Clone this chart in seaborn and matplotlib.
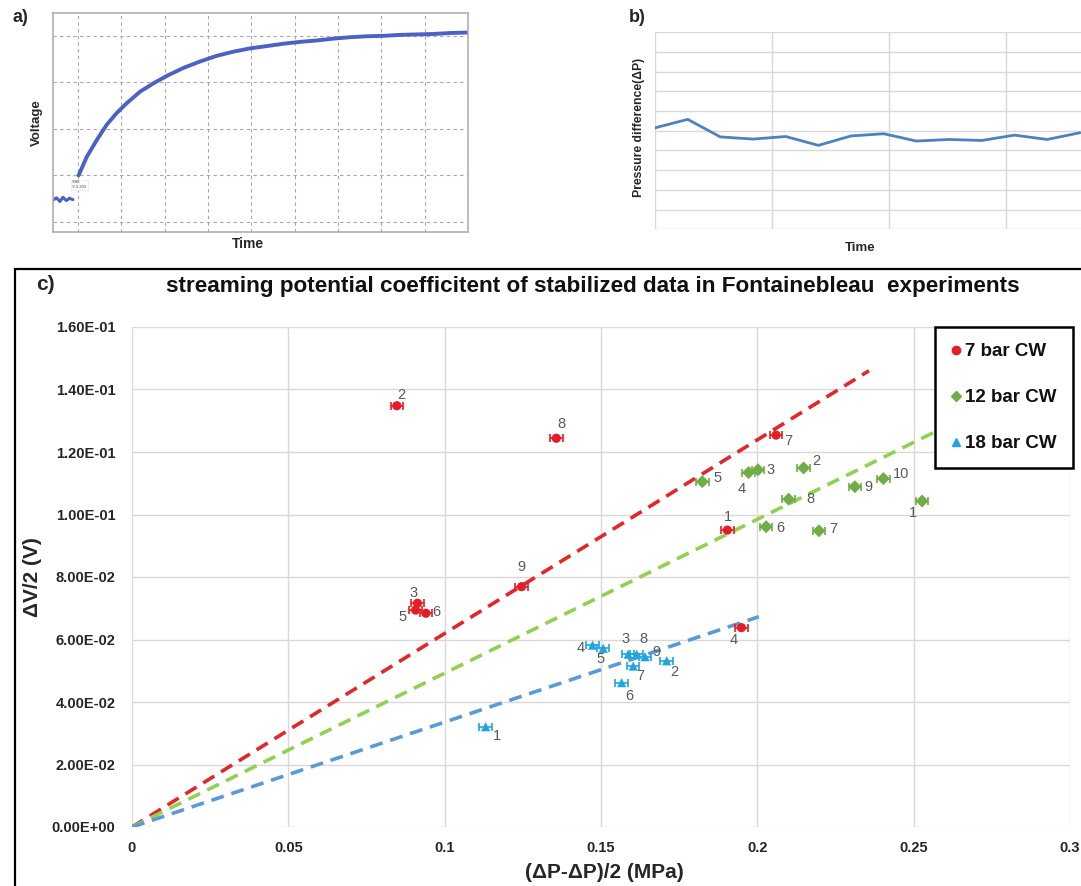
import matplotlib
matplotlib.use("Agg")
import matplotlib.pyplot as plt
import seaborn as sns
import pandas as pd
from matplotlib.lines import Line2D
from matplotlib.patches import Rectangle

# ---- panel a: scope trace (grid units)
voltBaseT = [-0.58, -0.5, -0.42, -0.35, -0.27, -0.2, -0.12]
voltBaseV = [0.47, 0.52, 0.44, 0.53, 0.46, 0.51, 0.48]
voltRiseT = [0.01, 0.20, 0.43, 0.66, 0.89, 1.12, 1.43, 1.74, 2.05, 2.43, 2.82, 3.20, 3.59,
             3.97, 4.36, 4.74, 5.13, 5.51, 5.90, 6.28, 6.67, 7.05, 7.44, 7.82, 8.21, 8.59, 8.98]
voltRiseV = [1.00, 1.40, 1.76, 2.09, 2.34, 2.55, 2.80, 2.98, 3.14, 3.31, 3.45, 3.57, 3.66,
             3.73, 3.78, 3.83, 3.87, 3.90, 3.94, 3.97, 3.99, 4.00, 4.02, 4.03, 4.04, 4.06, 4.07]

# ---- panel b: pressure difference
pressT = list(range(14))
pressDP = [5.15, 5.58, 4.69, 4.58, 4.71, 4.26, 4.74, 4.85, 4.48, 4.56, 4.51, 4.78, 4.56, 4.90]

# ---- panel c: streaming potential data
seriesNames = ["7 bar CW", "12 bar CW", "18 bar CW"]
red_lab = [1, 2, 3, 4, 5, 6, 7, 8, 9]
red_dp = [0.1904, 0.0847, 0.0913, 0.1949, 0.0907, 0.0940, 0.2060, 0.1357, 0.1246]
red_dv = [0.0950, 0.1348, 0.0716, 0.0638, 0.0694, 0.0684, 0.1254, 0.1244, 0.0769]
green_lab = [1, 2, 3, 4, 5, 6, 7, 8, 9, 10]
green_dp = [0.2527, 0.2148, 0.2002, 0.1972, 0.1824, 0.2028, 0.2197, 0.2100, 0.2312, 0.2403]
green_dv = [0.1043, 0.1149, 0.1143, 0.1134, 0.1105, 0.0961, 0.0948, 0.1049, 0.1089, 0.1115]
blue_lab = [1, 2, 3, 4, 5, 6, 7, 8, 9]
blue_dp = [0.1131, 0.1710, 0.1587, 0.1473, 0.1507, 0.1566, 0.1603, 0.1614, 0.1641]
blue_dv = [0.0321, 0.0532, 0.0553, 0.0582, 0.0572, 0.0462, 0.0515, 0.0553, 0.0545]
dpErr = 0.002

# trend lines through origin (end points)
red_fit_x = [0.0, 0.2357]
red_fit_y = [0.0, 0.1460]
green_fit_x = [0.0, 0.2600]
green_fit_y = [0.0, 0.1280]
blue_fit_x = [0.0, 0.2005]
blue_fit_y = [0.0, 0.0673]

xTicks = [0, 0.05, 0.1, 0.15, 0.2, 0.25, 0.3]
xTickLabels = ["0", "0.05", "0.1", "0.15", "0.2", "0.25", "0.3"]
yTicks = [0, 0.02, 0.04, 0.06, 0.08, 0.10, 0.12, 0.14, 0.16]

# label offsets in pixels (dx right, dy down)
red_off = [(1, -13), (4, -11), (-4, -10), (-8, 12), (-13, 7), (10, -1), (12, 6), (5, -14), (0, -20)]
green_off = [(-9, 12), (13, -7), (13, 0), (-7, 16), (15, -4), (14, 1), (14, -2), (22, 0), (14, 0), (18, -5)]
blue_off = [(11, 9), (8, 11), (-3, -15), (-12, 3), (-3, 11), (8, 13), (7, 10), (7, -15), (11, -5)]

W, H = 1081, 886


def box(left, top, right, bottom):
    return [left / W, 1 - bottom / H, (right - left) / W, (bottom - top) / H]


def fx(px):
    return px / W


def fy(py):
    return 1 - py / H


sns.set_theme(style="white")
plt.rcParams["font.family"] = ["Liberation Sans", "DejaVu Sans"]

fig = plt.figure(figsize=(W / 100, H / 100), dpi=100)

# ================= a)
axA = fig.add_axes(box(53, 13, 468, 232))
traceCol = "#4b62c4"
sns.lineplot(x=voltBaseT, y=voltBaseV, ax=axA, color=traceCol, lw=2.2)
sns.lineplot(x=voltRiseT, y=voltRiseV, ax=axA, color=traceCol, lw=2.8)
axA.set_xlim(-0.58, 9.0)
axA.set_ylim(-0.215, 4.49)
axA.set_xticks(range(0, 10))
axA.set_yticks(range(0, 5))
axA.grid(True, color="#a6a6a6", lw=0.8, linestyle=(0, (3, 3)))
axA.tick_params(length=0, labelbottom=False, labelleft=False)
for s in axA.spines.values():
    s.set_color("#b0b0b0")
    s.set_linewidth(1.2)
axA.set_xlabel("")
axA.set_ylabel("")
axA.text(-0.15, 0.8, "X:88\nY:-0.203", fontsize=3, va="center", ha="left", color="#444444",
         bbox=dict(facecolor="white", edgecolor="#dddddd", pad=0.6, lw=0.4))
fig.text(fx(20), fy(17), "a)", fontsize=13, fontweight="bold", ha="center", va="center")
fig.text(fx(37), fy(123), "Voltage", fontsize=9.5, fontweight="bold", rotation=90, ha="center", va="center")
fig.text(fx(248), fy(244), "Time", fontsize=10, fontweight="bold", ha="center", va="center")

# ================= b)
axB = fig.add_axes(box(655, 32.3, 1123, 229.3))
sns.lineplot(x=pressT, y=pressDP, ax=axB, color="#4f81bd", lw=2.0)
axB.set_xlim(0, 14.32)
axB.set_ylim(0, 10)
axB.set_xticks([0, 3.58, 7.16, 10.74, 14.32])
axB.set_yticks(range(0, 11))
axB.grid(True, color="#d9d9d9", lw=1.0)
axB.tick_params(length=0, labelbottom=False, labelleft=False)
for s in axB.spines.values():
    s.set_visible(False)
axB.set_xlabel("")
axB.set_ylabel("")
fig.text(fx(637), fy(18), "b)", fontsize=13, fontweight="bold", ha="center", va="center")
fig.text(fx(639), fy(127), "Pressure difference(\u0394P)", fontsize=8.8, fontweight="bold",
         rotation=90, ha="center", va="center")
fig.text(fx(860), fy(248), "Time", fontsize=9.5, fontweight="bold", ha="center", va="center")

# ================= c)
fig.add_artist(Rectangle((fx(14.5), fy(950)), 1.2, (950 - 268.6) / H, transform=fig.transFigure,
                         fill=False, ec="black", lw=1.6))
axC = fig.add_axes(box(132, 327, 1070, 827))

redCol, greenCol, blueCol = "#e41e26", "#70ad47", "#1fa6e0"
sns.lineplot(x=red_fit_x, y=red_fit_y, ax=axC, color="#e3262a", lw=2.6, linestyle=(0, (3.6, 2.2)))
sns.lineplot(x=green_fit_x, y=green_fit_y, ax=axC, color="#92d050", lw=2.6, linestyle=(0, (3.6, 2.2)))
sns.lineplot(x=blue_fit_x, y=blue_fit_y, ax=axC, color="#5b9bd5", lw=2.6, linestyle=(0, (3.6, 2.2)))

groups = [
    (seriesNames[0], red_dp, red_dv, red_lab, red_off, redCol, "o"),
    (seriesNames[1], green_dp, green_dv, green_lab, green_off, greenCol, "D"),
    (seriesNames[2], blue_dp, blue_dv, blue_lab, blue_off, blueCol, "^"),
]
frames = []
for name, xs, ys, labs, offs, col, mk in groups:
    axC.errorbar(xs, ys, xerr=dpErr, fmt="none", ecolor=col, elinewidth=1.2, capsize=2.8,
                 capthick=1.2, zorder=3)
    frames.append(pd.DataFrame({"dp": xs, "dv": ys, "series": name}))
df = pd.concat(frames, ignore_index=True)
sns.scatterplot(data=df, x="dp", y="dv", hue="series", style="series",
                palette={seriesNames[0]: redCol, seriesNames[1]: greenCol, seriesNames[2]: blueCol},
                markers={seriesNames[0]: "o", seriesNames[1]: "D", seriesNames[2]: "^"},
                s=44, linewidth=0, legend=False, ax=axC, zorder=4)

for name, xs, ys, labs, offs, col, mk in groups:
    for x, y, lab, (dx, dy) in zip(xs, ys, labs, offs):
        axC.annotate(str(lab), (x, y), xytext=(dx, -dy), textcoords="offset pixels",
                     ha="center", va="center", fontsize=10.5, color="#595959")

axC.set_xlim(0, 0.3)
axC.set_ylim(0, 0.16)
axC.set_xticks(xTicks)
axC.set_xticklabels(xTickLabels)
axC.set_yticks(yTicks)
axC.set_yticklabels([f"{v:.2E}" for v in yTicks])
axC.grid(True, color="#d9d9d9", lw=1.0)
for s in axC.spines.values():
    s.set_visible(False)
axC.tick_params(length=0, labelsize=10.5, pad=10)
for t in axC.get_xticklabels() + axC.get_yticklabels():
    t.set_fontweight("bold")
    t.set_color("#262626")
axC.tick_params(axis="y", pad=12)
axC.set_xlabel("")
axC.set_ylabel("")

handles = [Line2D([], [], ls="none", marker=mk, color=col, markersize=6 if mk != "D" else 5)
           for name, xs, ys, labs, offs, col, mk in groups]
leg = axC.legend(handles, seriesNames, loc="upper right", bbox_to_anchor=(fx(1073), fy(327)),
                 bbox_transform=fig.transFigure, frameon=True, fancybox=False, framealpha=1,
                 edgecolor="black", prop=dict(size=13.5, weight="bold"), labelspacing=1.55,
                 handlelength=0.6, handletextpad=0.2, borderpad=0.85, borderaxespad=0)
leg.get_frame().set_linewidth(1.8)
for t in leg.get_texts():
    t.set_color("#111111")

fig.text(fx(45), fy(285), "c)", fontsize=15, fontweight="bold", ha="center", va="center")
fig.text(fx(593), fy(286), "streaming potential coefficitent of stabilized data in Fontainebleau  experiments",
         fontsize=16.2, fontweight="bold", ha="center", va="center", color="#111111")
fig.text(fx(33), fy(577), "\u0394V/2 (V)", fontsize=15, fontweight="bold", rotation=90,
         ha="center", va="center")
fig.text(fx(604), fy(873), "(\u0394P-\u0394P)/2 (MPa)", fontsize=15, fontweight="bold",
         ha="center", va="center")

fig.savefig("out.png", dpi=100)
